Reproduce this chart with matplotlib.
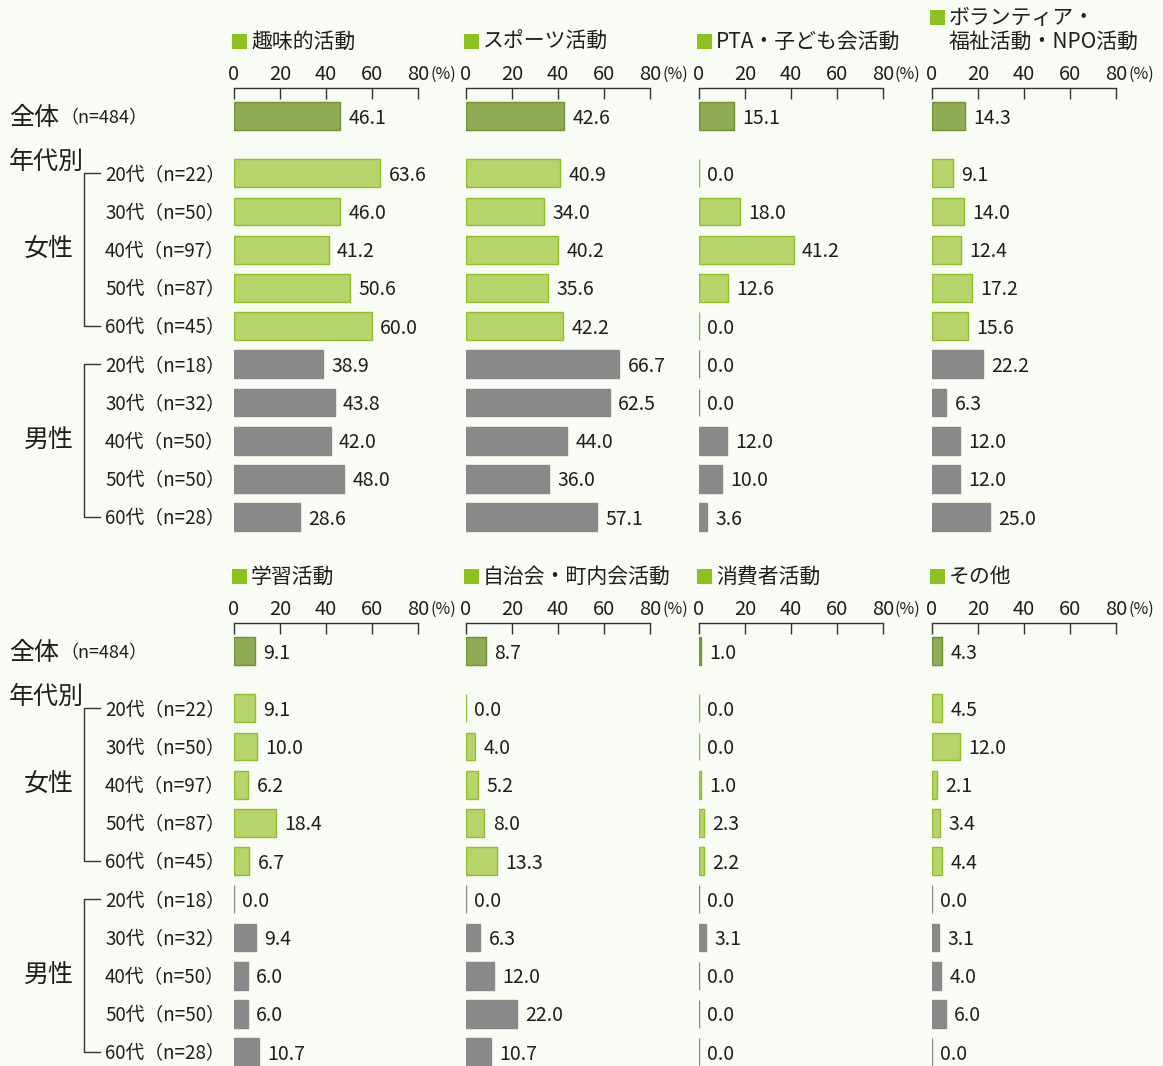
import numpy as np
import matplotlib
matplotlib.use("Agg")
import matplotlib.pyplot as plt
from matplotlib.patches import Rectangle
from matplotlib.lines import Line2D

plt.rcParams['font.family'] = ['Noto Sans CJK JP', 'DejaVu Sans']

# ------------------------------------------------
#   datos
# ------------------------------------------------
row_labels = ["20代（n=22）", "30代（n=50）", "40代（n=97）", "50代（n=87）", "60代（n=45）",
              "20代（n=18）", "30代（n=32）", "40代（n=50）", "50代（n=50）", "60代（n=28）"]
total_label = "（n=484）"

titles_top = ["趣味的活動", "スポーツ活動", "PTA・子ども会活動", "ボランティア・\n福祉活動・NPO活動"]
titles_bottom = ["学習活動", "自治会・町内会活動", "消費者活動", "その他"]

# total, women 20-60, men 20-60
hobby     = [46.1, 63.6, 46.0, 41.2, 50.6, 60.0, 38.9, 43.8, 42.0, 48.0, 28.6]
sports    = [42.6, 40.9, 34.0, 40.2, 35.6, 42.2, 66.7, 62.5, 44.0, 36.0, 57.1]
pta       = [15.1, 0.0, 18.0, 41.2, 12.6, 0.0, 0.0, 0.0, 12.0, 10.0, 3.6]
volunteer = [14.3, 9.1, 14.0, 12.4, 17.2, 15.6, 22.2, 6.3, 12.0, 12.0, 25.0]
study     = [9.1, 9.1, 10.0, 6.2, 18.4, 6.7, 0.0, 9.4, 6.0, 6.0, 10.7]
jichikai  = [8.7, 0.0, 4.0, 5.2, 8.0, 13.3, 0.0, 6.3, 12.0, 22.0, 10.7]
consumer  = [1.0, 0.0, 0.0, 1.0, 2.3, 2.2, 0.0, 3.1, 0.0, 0.0, 0.0]
other     = [4.3, 4.5, 12.0, 2.1, 3.4, 4.4, 0.0, 3.1, 4.0, 6.0, 0.0]

ticks = [0, 20, 40, 60, 80]

# ------------------------------------------------
#   estilo / geometria (pixeles)
# ------------------------------------------------
W, H = 1163, 1066
BG = "#f9fbf5"
TXT = "#1e1e1e"
C_TOT, E_TOT = "#8fab55", "#6e9331"
C_FEM, E_FEM = "#b6d36c", "#8fc126"
C_MAL = "#898989"
C_SQ = "#8cc21f"

def fx(px):
    return px / W

def fy(py):
    return 1 - py / H

pos = np.array([0] + [1.5 + i for i in range(10)])
unit = 38.2          # px por fila
row0 = 116           # centro fila total (px)
axis_y = 88          # linea del eje
ax_bottom = 536
panel_x = [234, 466, 699, 932]
panel_w = 184
half_off = [0, 535]
dy = 2               # ajuste vertical del texto CJK

fig = plt.figure(figsize=(W / 100, H / 100), dpi=100, facecolor=BG)

def draw_panel(x0, off, title, vals):
    ax = fig.add_axes([fx(x0), fy(ax_bottom + off), panel_w / W, (ax_bottom - axis_y) / H])
    ax.set_facecolor("none")
    top = -(row0 - axis_y) / unit
    bot = (ax_bottom - row0) / unit
    ax.set_xlim(0, 80)
    ax.set_ylim(bot, top)
    colors = [C_TOT] + [C_FEM] * 5 + [C_MAL] * 5
    edges = [E_TOT] + [E_FEM] * 5 + [C_MAL] * 5
    ax.barh(pos, vals, height=0.73, color=colors, edgecolor=edges, linewidth=1)
    for p, v in zip(pos, vals):
        ax.annotate(f"{v:.1f}", (v, p), xytext=(6, -1.5), textcoords="offset points",
                    va="center", ha="left", fontsize=14, color=TXT)
    for s in ["left", "right", "bottom"]:
        ax.spines[s].set_visible(False)
    ax.spines["top"].set_color("#333333")
    ax.spines["top"].set_linewidth(1)
    ax.xaxis.tick_top()
    ax.set_xticks(ticks)
    ax.set_xticklabels([str(t) for t in ticks], fontsize=14.5, color=TXT)
    ax.tick_params(axis="x", direction="in", length=8, width=1, color="#333333", pad=2)
    ax.set_yticks([])
    fig.text(fx(x0 + panel_w + 12), fy(74 + off), "(%)", fontsize=11.5, va="center",
             ha="left", color=TXT)
    # titulo con cuadrado verde
    lines = title.split("\n")
    ty = 41 + off - 24 * (len(lines) - 1)
    fig.add_artist(Rectangle((fx(x0 - 2), fy(ty + 8)), 15 / W, 15 / H,
                             transform=fig.transFigure, color=C_SQ, lw=0))
    for i, ln in enumerate(lines):
        fig.text(fx(x0 + 17), fy(ty + 24 * i + 1), ln, fontsize=15, va="center", ha="left",
                 color=TXT)

panels = [(titles_top, [hobby, sports, pta, volunteer]),
          (titles_bottom, [study, jichikai, consumer, other])]

for off, (tts, data) in zip(half_off, panels):
    for x0, t, v in zip(panel_x, tts, data):
        draw_panel(x0, off, t, v)

    # etiquetas izquierda
    fig.text(fx(9), fy(row0 + off + dy), "全体", fontsize=18, va="center", ha="left", color=TXT)
    fig.text(fx(60), fy(row0 + off + dy), total_label, fontsize=13, va="center", ha="left", color=TXT)
    fig.text(fx(9), fy(160 + off + dy), "年代別", fontsize=18, va="center", ha="left", color=TXT)
    for p, lab in zip(pos[1:], row_labels):
        fig.text(fx(105), fy(row0 + p * unit + off + dy), lab, fontsize=13.5, va="center",
                 ha="left", color=TXT)
    for grp, name in [(pos[1:6], "女性"), (pos[6:11], "男性")]:
        y1 = row0 + grp[0] * unit + off
        y2 = row0 + grp[-1] * unit + off
        fig.add_artist(Line2D([fx(100), fx(84), fx(84), fx(100)], [fy(y1), fy(y1), fy(y2), fy(y2)],
                              transform=fig.transFigure, color="#333333", lw=1))
        fig.text(fx(49), fy((y1 + y2) / 2), name, fontsize=18, va="center", ha="center", color=TXT)

fig.savefig("out.png", dpi=100, facecolor=BG)
